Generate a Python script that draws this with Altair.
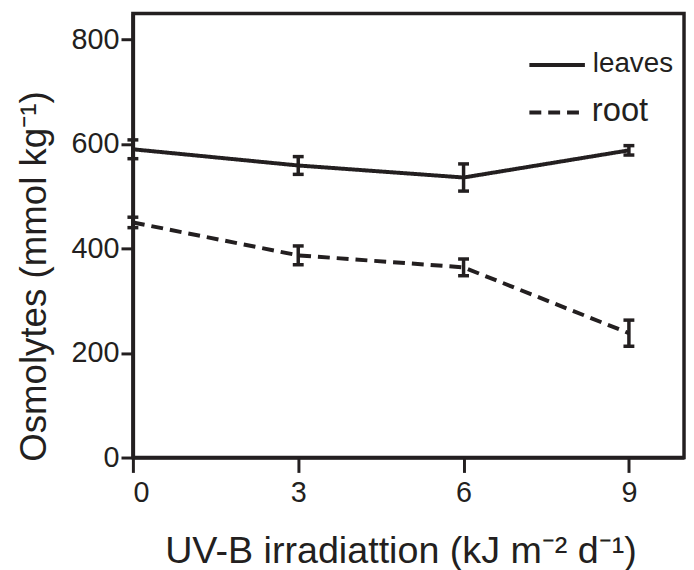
import altair as alt
import pandas as pd

doses = [0, 3, 6, 9]
leaves_mean = [590, 559, 536, 588]
leaves_err = [18, 17, 26, 9]
root_mean = [450, 387, 364, 238]
root_err = [10, 18, 16, 25]

rows = []
for d, m, e in zip(doses, leaves_mean, leaves_err):
    rows.append({"dose": d, "value": m, "lo": m - e, "hi": m + e, "tissue": "leaves"})
for d, m, e in zip(doses, root_mean, root_err):
    rows.append({"dose": d, "value": m, "lo": m - e, "hi": m + e, "tissue": "root"})
df = pd.DataFrame(rows)

INK = "#231f20"
FONT = "Liberation Sans"

xs = alt.Scale(domain=[0, 10], nice=False)
ys = alt.Scale(domain=[0, 850], nice=False)

xaxis = alt.Axis(values=[0, 3, 6, 9], title="UV-B irradiattion   (kJ m\u207b\u00b2 d\u207b\u00b9)",
                 grid=False, tickSize=15, tickWidth=3, domainWidth=3.5, labelFontSize=29,
                 titleFontSize=38, labelPadding=6, titlePadding=26, titleFontWeight="normal",
                 titleX=270, titleAnchor="middle",
                 domainColor=INK, tickColor=INK, labelColor=INK, titleColor=INK,
                 labelFont=FONT, titleFont=FONT)
yaxis = alt.Axis(values=[0, 200, 400, 600, 800], title="Osmolytes  (mmol kg\u207b\u00b9)",
                 grid=False, tickSize=12, tickWidth=3, domainWidth=3.5, labelFontSize=29,
                 titleFontSize=37, labelPadding=2, titlePadding=18, titleFontWeight="normal",
                 titleY=265, titleAnchor="middle",
                 domainColor=INK, tickColor=INK, labelColor=INK, titleColor=INK,
                 labelFont=FONT, titleFont=FONT)

base = alt.Chart(df)

lines = base.mark_line(strokeWidth=4, color=INK).encode(
    x=alt.X("dose:Q", scale=xs, axis=xaxis),
    y=alt.Y("value:Q", scale=ys, axis=yaxis),
    strokeDash=alt.StrokeDash("tissue:N", scale=alt.Scale(domain=["leaves", "root"], range=[[1, 0], [12, 7]]), legend=None),
    detail="tissue:N",
)

err = base.mark_rule(strokeWidth=3.5, color=INK, opacity=1).encode(
    x="dose:Q", y="lo:Q", y2="hi:Q"
)
cap_lo = base.mark_tick(orient="horizontal", size=11, thickness=3.5, color=INK, opacity=1).encode(x="dose:Q", y="lo:Q")
cap_hi = base.mark_tick(orient="horizontal", size=11, thickness=3.5, color=INK, opacity=1).encode(x="dose:Q", y="hi:Q")

leg_df = pd.DataFrame({"k": [0]})
leg_base = alt.Chart(leg_df)
leg_l1 = leg_base.mark_rule(strokeWidth=4, color=INK).encode(x=alt.value(400), x2=alt.value(456), y=alt.value(52))
leg_l2 = leg_base.mark_rule(strokeWidth=4, color=INK, strokeDash=[12, 7]).encode(x=alt.value(400), x2=alt.value(456), y=alt.value(100))
leg_t1 = leg_base.mark_text(text="leaves", fontSize=28, font=FONT, align="left", baseline="middle", color=INK).encode(x=alt.value(464), y=alt.value(51))
leg_t2 = leg_base.mark_text(text="root", fontSize=33, font=FONT, align="left", baseline="middle", color=INK).encode(x=alt.value(463), y=alt.value(98))

chart = alt.layer(lines, err, cap_lo, cap_hi, leg_l1, leg_l2, leg_t1, leg_t2).properties(
    width=556, height=448,
    background="white",
    autosize=alt.AutoSizeParams(type="none"),
    padding={"left": 126, "top": 3, "right": 2, "bottom": 115},
).configure_view(stroke=INK, strokeWidth=3.5)

chart.save("out.html", embed_options={"renderer": "svg", "actions": False})
